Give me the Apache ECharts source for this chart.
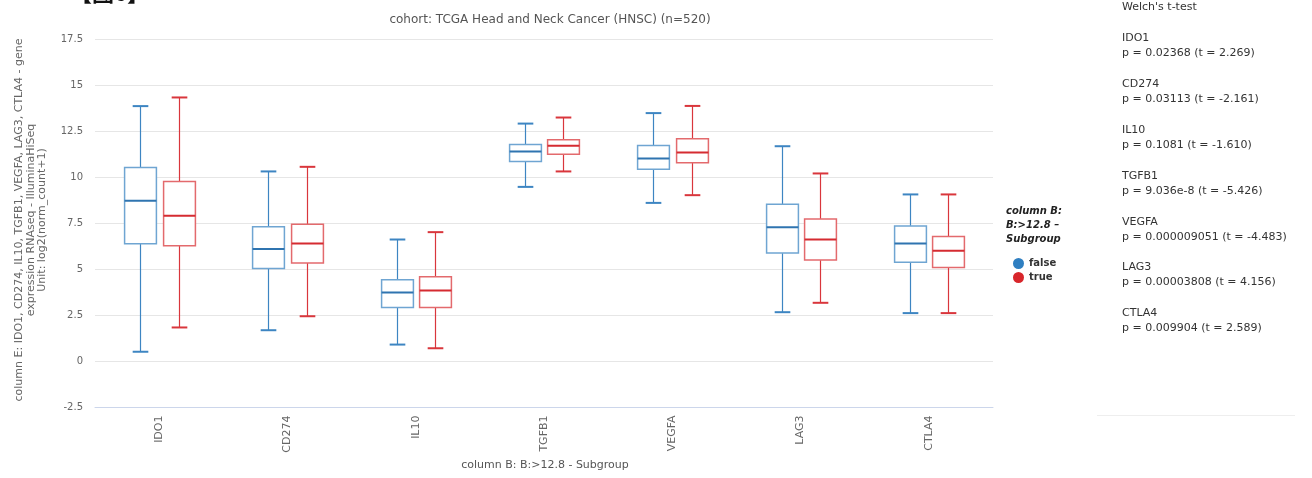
<!DOCTYPE html>
<html>
<head>
<meta charset="utf-8">
<script src="https://cdn.jsdelivr.net/npm/echarts@6/dist/echarts.min.js"></script>
<style>html,body{margin:0;padding:0;background:#fff}#c{width:1312px;height:478px}</style>
</head>
<body>
<div id="c"></div>
<script>
const categories = ['IDO1', 'CD274', 'IL10', 'TGFB1', 'VEGFA', 'LAG3', 'CTLA4'];
// [min, Q1, median, Q3, max]
const falseBoxes = [
  [0.53, 6.40, 8.73, 10.54, 13.88],
  [1.70, 5.05, 6.12, 7.32, 10.33],
  [0.92, 2.93, 3.75, 4.44, 6.63],
  [9.49, 10.87, 11.41, 11.79, 12.93],
  [8.62, 10.45, 11.03, 11.74, 13.50],
  [2.68, 5.89, 7.30, 8.55, 11.70],
  [2.63, 5.40, 6.41, 7.37, 9.08]
];
const trueBoxes = [
  [1.85, 6.29, 7.92, 9.78, 14.35],
  [2.46, 5.36, 6.41, 7.46, 10.58],
  [0.72, 2.93, 3.86, 4.60, 7.03],
  [10.33, 11.27, 11.72, 12.05, 13.26],
  [9.04, 10.80, 11.36, 12.10, 13.89],
  [3.19, 5.51, 6.63, 7.75, 10.22],
  [2.63, 5.11, 6.02, 6.79, 9.08]
];
const yTicks = [-2.5, 0, 2.5, 5, 7.5, 10, 12.5, 15, 17.5];
const testGenes = ['IDO1', 'CD274', 'IL10', 'TGFB1', 'VEGFA', 'LAG3', 'CTLA4'];
const testResults = [
  'p = 0.02368 (t = 2.269)',
  'p = 0.03113 (t = -2.161)',
  'p = 0.1081 (t = -1.610)',
  'p = 9.036e-8 (t = -5.426)',
  'p = 0.000009051 (t = -4.483)',
  'p = 0.00003808 (t = 4.156)',
  'p = 0.009904 (t = 2.589)'
];

const styles = [
  {name: 'false', legend: '#2f7fc1', whisker: '#3d85c2', box: '#6fa5d2', median: '#2f74b0', off: -0.148},
  {name: 'true', legend: '#d8262b', whisker: '#d9363c', box: '#e36a6d', median: '#d52b31', off: 0.151}
];

function makeRender(st) {
  return function (params, api) {
    const idx = api.value(0);
    const bw = api.size([1, 0])[0];
    const cx = Math.round(api.coord([idx, 0])[0] + st.off * bw) + 0.5;
    const half = 0.124 * bw;
    const cap = 0.061 * bw;
    const y = k => api.coord([idx, api.value(k)])[1];
    const yMin = y(1), yQ1 = y(2), yMed = y(3), yQ3 = y(4), yMax = y(5);
    return {
      type: 'group',
      children: [
        {type: 'line', shape: {x1: cx, y1: yQ3, x2: cx, y2: yMax}, style: {stroke: st.whisker, lineWidth: 1.2}},
        {type: 'line', shape: {x1: cx, y1: yQ1, x2: cx, y2: yMin}, style: {stroke: st.whisker, lineWidth: 1.2}},
        {type: 'line', shape: {x1: cx - cap, y1: yMax, x2: cx + cap, y2: yMax}, style: {stroke: st.whisker, lineWidth: 2}},
        {type: 'line', shape: {x1: cx - cap, y1: yMin, x2: cx + cap, y2: yMin}, style: {stroke: st.whisker, lineWidth: 2}},
        {type: 'rect', shape: {x: cx - half, y: yQ3, width: 2 * half, height: yQ1 - yQ3}, style: {fill: '#fff', stroke: st.box, lineWidth: 1.5}},
        {type: 'line', shape: {x1: cx - half, y1: yMed, x2: cx + half, y2: yMed}, style: {stroke: st.median, lineWidth: 2}}
      ]
    };
  };
}

const seriesData = [falseBoxes, trueBoxes];
const series = styles.map((st, si) => ({
  name: st.name,
  type: 'custom',
  renderItem: makeRender(st),
  itemStyle: {color: st.legend},
  encode: {x: 0, y: [1, 2, 3, 4, 5]},
  data: seriesData[si].map((b, i) => [i].concat(b)),
  silent: true
}));

const graphics = [];
graphics.push({type: 'text', left: 70, top: -18, style: {text: '【图6】', font: 'bold 22px "Noto Sans CJK SC"', fill: '#111'}});
graphics.push({type: 'text', x: 550, y: 20, style: {text: 'cohort: TCGA Head and Neck Cancer (HNSC) (n=520)', font: '12px "DejaVu Sans"', fill: '#555', textAlign: 'center', textVerticalAlign: 'middle'}});
graphics.push({type: 'text', x: 31, y: 220, rotation: Math.PI / 2, style: {
  text: 'column E: IDO1, CD274, IL10, TGFB1, VEGFA, LAG3, CTLA4 - gene\nexpression RNAseq - IlluminaHiSeq\nUnit: log2(norm_count+1)',
  font: '11px "DejaVu Sans"', lineHeight: 11.5, fill: '#666', textAlign: 'center', textVerticalAlign: 'middle'}});
graphics.push({type: 'text', x: 545, y: 465, style: {text: 'column B: B:>12.8 - Subgroup', font: '11px "DejaVu Sans"', fill: '#555', textAlign: 'center', textVerticalAlign: 'middle'}});
graphics.push({type: 'text', left: 1006, top: 204, style: {text: 'column B:\nB:>12.8 –\nSubgroup', font: 'italic bold 10px "DejaVu Sans"', lineHeight: 14, fill: '#222'}});
graphics.push({type: 'text', left: 1122, top: 2, style: {text: "Welch's t-test", font: '11px "DejaVu Sans"', fill: '#333'}});
testGenes.forEach((g, i) => {
  const top = 31 + i * 45.8;
  graphics.push({type: 'text', left: 1122, top: top, style: {text: g + '\n' + testResults[i], font: '11px "DejaVu Sans"', lineHeight: 15, fill: '#333'}});
});
graphics.push({type: 'line', shape: {x1: 1097, y1: 415.5, x2: 1295, y2: 415.5}, style: {stroke: '#eeeeee', lineWidth: 1}});

const chart = echarts.init(document.getElementById('c'), null, {renderer: 'canvas'});
chart.setOption({
  animation: false,
  backgroundColor: '#fff',
  grid: {left: 95, right: 319, top: 39.5, bottom: 70.5},
  legend: {
    orient: 'vertical', left: 1008, top: 253,
    itemWidth: 11, itemHeight: 11, itemGap: 3,
    icon: 'circle',
    textStyle: {fontFamily: 'DejaVu Sans', fontWeight: 'bold', fontSize: 10, color: '#333'},
    data: styles.map(s => s.name)
  },
  xAxis: {
    type: 'category', data: categories,
    axisLine: {onZero: false, lineStyle: {color: '#ccd6eb'}},
    axisTick: {length: 10, lineStyle: {color: '#ccd6eb'}},
    axisLabel: {rotate: 90, margin: 8, fontFamily: 'DejaVu Sans', fontSize: 11, color: '#666'},
    splitLine: {show: false}
  },
  yAxis: {
    type: 'value', min: yTicks[0], max: yTicks[yTicks.length - 1], interval: 2.5,
    axisLine: {show: false}, axisTick: {show: false},
    axisLabel: {fontFamily: 'DejaVu Sans', fontSize: 10, color: '#666', margin: 12},
    splitLine: {lineStyle: {color: '#e6e6e6'}}
  },
  series: series,
  graphic: graphics
});
</script>
</body>
</html>
